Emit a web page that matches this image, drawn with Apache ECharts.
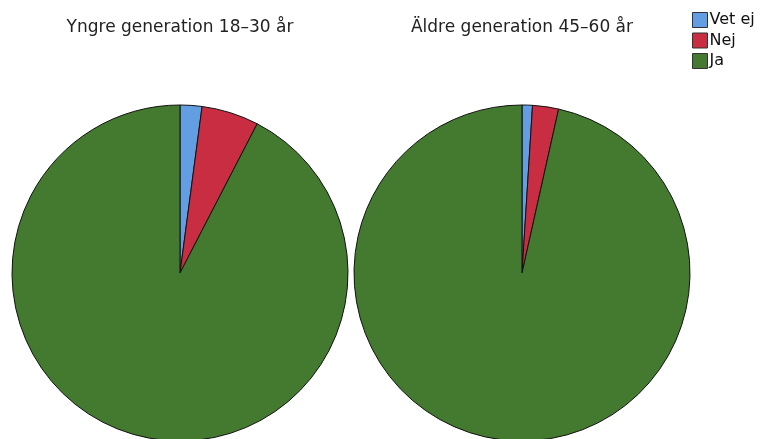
<!DOCTYPE html>
<html><head><meta charset="utf-8">
<script src="https://cdn.jsdelivr.net/npm/echarts@6/dist/echarts.min.js"></script>
<style>html,body{margin:0;padding:0;background:#fff}#c{width:760px;height:439px}</style>
</head><body><div id="c"></div>
<script>
const categories = ['Vet ej', 'Nej', 'Ja'];
const groupTitles = ['Yngre generation 18–30 år', 'Äldre generation 45–60 år'];
const youngValues = [2.1, 5.5, 92.4];
const oldValues = [1.0, 2.5, 96.5];
const colors = ['#639de2', '#c82d41', '#437a2f'];

const font = '"DejaVu Sans", Verdana, sans-serif';
function mk(vals){ return categories.map((c,i)=>({name:c, value:vals[i]})); }
const chart = echarts.init(document.getElementById('c'), null, {renderer:'canvas'});
chart.setOption({
  animation:false,
  color: colors,
  graphic: [
    {type:'text', x:180, y:28, style:{text: groupTitles[0], textAlign:'center', textVerticalAlign:'middle', font:'17px ' + font, fill:'#222'}},
    {type:'text', x:522, y:28, style:{text: groupTitles[1], textAlign:'center', textVerticalAlign:'middle', font:'17px ' + font, fill:'#222'}}
  ],
  legend: {
    orient:'vertical', left: 692, top: 12, padding:0, itemWidth: 15, itemHeight: 15, itemGap: 4.5,
    data: categories, icon:'rect',
    itemStyle:{borderColor:'#333', borderWidth:1},
    textStyle:{fontFamily:font, fontSize:16, lineHeight:15, color:'#111', padding:[0,0,0,-3]}
  },
  series: [
    {type:'pie', center:[180,273], radius:168, startAngle:90, clockwise:true, label:{show:false}, labelLine:{show:false},
     itemStyle:{borderColor:'#111', borderWidth:1}, emphasis:{disabled:true}, data: mk(youngValues)},
    {type:'pie', center:[522,273], radius:168, startAngle:90, clockwise:true, label:{show:false}, labelLine:{show:false},
     itemStyle:{borderColor:'#111', borderWidth:1}, emphasis:{disabled:true}, data: mk(oldValues)}
  ]
});
</script></body></html>
